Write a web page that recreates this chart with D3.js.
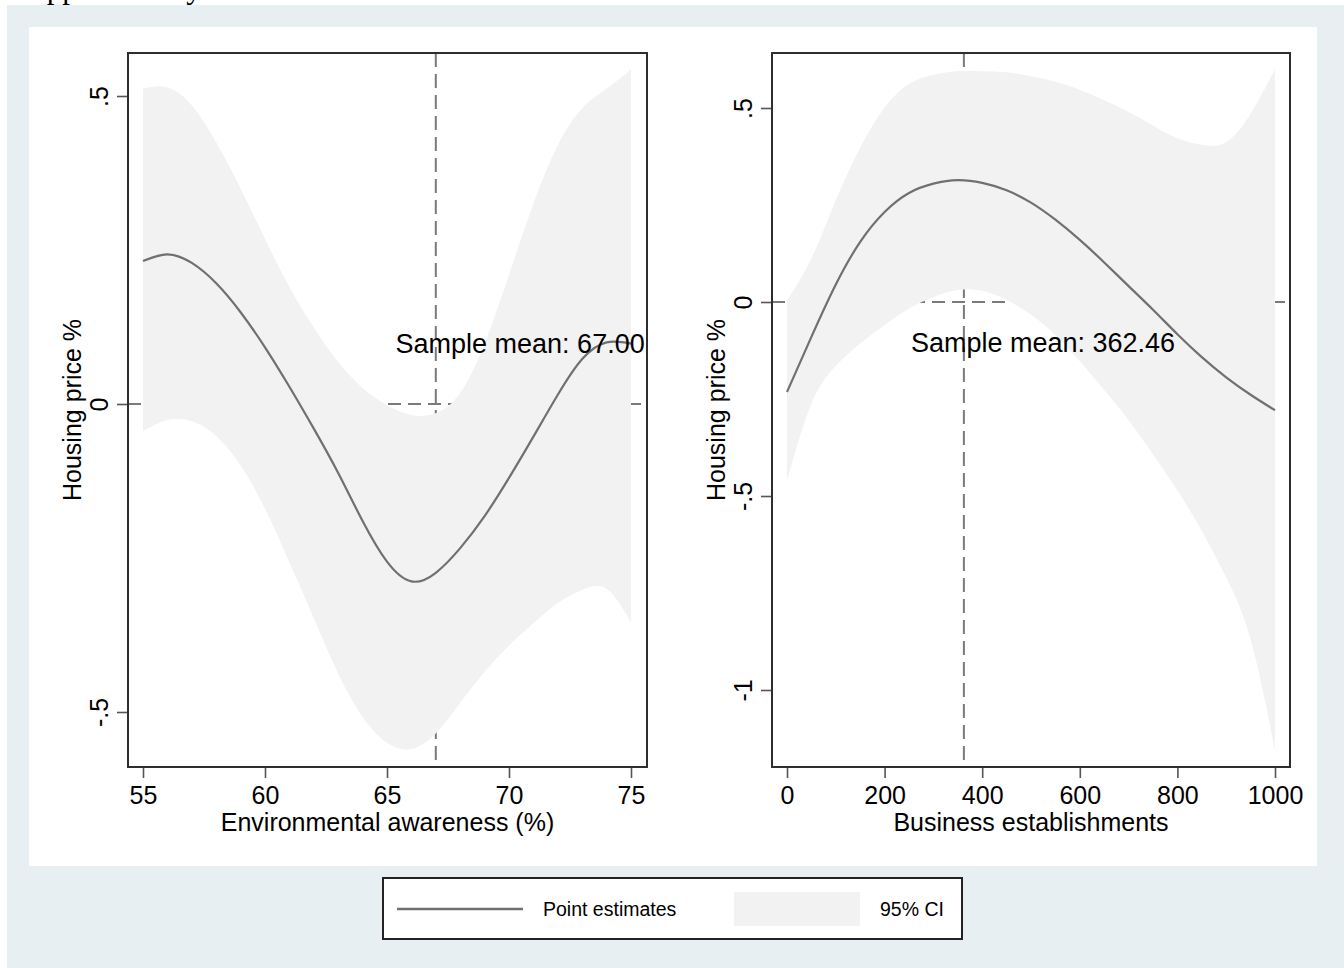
<!DOCTYPE html>
<html>
<head>
<meta charset="utf-8">
<script src="https://cdn.jsdelivr.net/npm/d3@7"></script>
<style>
  body { margin: 0; background: #fff; }
  svg { display: block; font-family: "Liberation Sans", Arial, sans-serif; }
</style>
</head>
<body>
<svg id="chart" width="1344" height="968"></svg>
<script>
// ---- data ----
const envX = [55, 56, 57, 58, 59, 60, 61, 62, 63, 64, 65, 66, 67, 68, 69, 70, 71, 72, 73, 74, 75];
const envEst = [0.232, 0.243, 0.229, 0.196, 0.149, 0.092, 0.028, -0.040, -0.112, -0.190, -0.256, -0.288, -0.274, -0.234, -0.182, -0.120, -0.053, 0.015, 0.073, 0.100, 0.098];
const envHi = [0.512, 0.514, 0.485, 0.425, 0.350, 0.268, 0.190, 0.124, 0.068, 0.026, -0.002, -0.018, -0.015, 0.018, 0.098, 0.210, 0.325, 0.420, 0.480, 0.512, 0.543];
const envLo = [-0.044, -0.026, -0.028, -0.052, -0.100, -0.170, -0.257, -0.348, -0.438, -0.508, -0.550, -0.560, -0.535, -0.485, -0.435, -0.392, -0.356, -0.323, -0.302, -0.300, -0.355];

const busX = [0, 50, 100, 150, 200, 250, 300, 350, 400, 450, 500, 550, 600, 650, 700, 750, 800, 850, 900, 950, 1000];
const busEst = [-0.232, -0.090, 0.045, 0.155, 0.232, 0.281, 0.305, 0.314, 0.307, 0.288, 0.256, 0.212, 0.160, 0.102, 0.041, -0.020, -0.083, -0.142, -0.194, -0.239, -0.279];
const busHi = [0.004, 0.112, 0.262, 0.398, 0.501, 0.562, 0.586, 0.595, 0.595, 0.592, 0.582, 0.568, 0.547, 0.520, 0.490, 0.455, 0.422, 0.405, 0.412, 0.485, 0.600];
const busLo = [-0.461, -0.262, -0.165, -0.107, -0.060, -0.017, 0.013, 0.031, 0.029, 0.005, -0.033, -0.085, -0.153, -0.227, -0.305, -0.393, -0.486, -0.590, -0.710, -0.870, -1.156];

const envTicksX = [55, 60, 65, 70, 75];
const envTicksY = [-0.5, 0, 0.5];
const busTicksX = [0, 200, 400, 600, 800, 1000];
const busTicksY = [-1, -0.5, 0, 0.5];

const envMean = 67.00;
const busMean = 362.46;

const legendLabels = ["Point estimates", "95% CI"];

// ---- look ----
const ciColor = "#f2f2f2";
const lineColor = "#707070";
const refColor = "#7a7a7a";
const frameColor = "#2e2e2e";

const svg = d3.select("#chart");

// page text cut by the crop, then graph region + plot region
svg.append("text")
    .attr("x", 14).attr("y", -2)
    .attr("font-family", "Liberation Serif, Times New Roman, serif")
    .attr("font-size", 31)
    .attr("fill", "#000")
    .text("Supplementary");
svg.append("rect").attr("x", 7).attr("y", 5).attr("width", 1337).attr("height", 963).attr("fill", "#e8eff2");
svg.append("rect").attr("x", 29).attr("y", 27).attr("width", 1288).attr("height", 839).attr("fill", "#fff");

const yFmt = d => d === 0 ? "0" : (d < 0 ? "-" : "") + String(Math.abs(d)).replace(/^0/, "");

function drawPanel(opt) {
    const g = svg.append("g");
    const x = d3.scaleLinear().domain(opt.xDomain).range(opt.xRange);
    const y = d3.scaleLinear().domain(opt.yDomain).range(opt.yRange);
    const b = opt.box; // plot frame in pixels

    const rows = opt.xs.map((v, i) => ({ x: v, est: opt.est[i], hi: opt.hi[i], lo: opt.lo[i] }));

    // reference lines (under the band)
    g.append("line")
        .attr("x1", b.left).attr("x2", b.right)
        .attr("y1", y(0)).attr("y2", y(0))
        .attr("stroke", refColor).attr("stroke-width", 2).attr("stroke-dasharray", "13,7");
    g.append("line")
        .attr("x1", x(opt.mean)).attr("x2", x(opt.mean))
        .attr("y1", b.top).attr("y2", b.bottom)
        .attr("stroke", refColor).attr("stroke-width", 2).attr("stroke-dasharray", "14,7");

    // confidence band
    const area = d3.area()
        .x(d => x(d.x))
        .y0(d => y(d.lo))
        .y1(d => y(d.hi))
        .curve(d3.curveNatural);
    g.append("path").datum(rows).attr("d", area).attr("fill", ciColor);

    // point estimates
    const line = d3.line()
        .x(d => x(d.x))
        .y(d => y(d.est))
        .curve(d3.curveNatural);
    g.append("path").datum(rows).attr("d", line)
        .attr("fill", "none").attr("stroke", lineColor).attr("stroke-width", 2.2);

    // sample mean label
    g.append("text")
        .attr("x", x(opt.labelAt[0])).attr("y", y(opt.labelAt[1]))
        .attr("font-size", 27).attr("fill", "#000")
        .text("Sample mean: " + opt.meanText);

    // axes
    const xAxis = g.append("g")
        .attr("transform", `translate(0,${b.bottom})`)
        .call(d3.axisBottom(x).tickValues(opt.xTicks).tickSize(11).tickPadding(6).tickFormat(d3.format("d")));
    xAxis.select(".domain").remove();
    xAxis.selectAll(".tick line").attr("stroke", "#555").attr("stroke-width", 1.6);
    xAxis.selectAll(".tick text").attr("font-size", 25).attr("fill", "#000").attr("dy", "0.78em");

    const yAxis = g.append("g")
        .attr("transform", `translate(${b.left},0)`)
        .call(d3.axisLeft(y).tickValues(opt.yTicks).tickSize(11).tickFormat(yFmt));
    yAxis.select(".domain").remove();
    yAxis.selectAll(".tick line").attr("stroke", "#555").attr("stroke-width", 1.6);
    yAxis.selectAll(".tick text")
        .attr("font-size", 25).attr("fill", "#000")
        .attr("x", 0).attr("dy", 0)
        .attr("text-anchor", "middle")
        .attr("transform", "translate(-20,0) rotate(-90)");

    // frame
    g.append("rect")
        .attr("x", b.left).attr("y", b.top)
        .attr("width", b.right - b.left).attr("height", b.bottom - b.top)
        .attr("fill", "none").attr("stroke", frameColor).attr("stroke-width", 2);

    // titles
    g.append("text")
        .attr("x", (b.left + b.right) / 2).attr("y", b.bottom + 64)
        .attr("text-anchor", "middle").attr("font-size", 25).attr("fill", "#000")
        .text(opt.xTitle);
    g.append("text")
        .attr("transform", `translate(${b.left - 47},${(b.top + b.bottom) / 2}) rotate(-90)`)
        .attr("text-anchor", "middle").attr("font-size", 25).attr("fill", "#000")
        .text("Housing price %");
}

drawPanel({
    xs: envX, est: envEst, hi: envHi, lo: envLo,
    xDomain: [55, 75], xRange: [143, 631],
    yDomain: [-0.5, 0.5], yRange: [712, 96],
    box: { left: 128, right: 647, top: 53, bottom: 767 },
    xTicks: envTicksX, yTicks: envTicksY,
    mean: envMean, meanText: envMean.toFixed(2), labelAt: [65.35, 0.082],
    xTitle: "Environmental awareness (%)"
});

drawPanel({
    xs: busX, est: busEst, hi: busHi, lo: busLo,
    xDomain: [0, 1000], xRange: [787, 1275],
    yDomain: [-1, 0.5], yRange: [690, 108],
    box: { left: 772, right: 1290, top: 53, bottom: 767 },
    xTicks: busTicksX, yTicks: busTicksY,
    mean: busMean, meanText: busMean.toFixed(2), labelAt: [254, -0.128],
    xTitle: "Business establishments"
});

// legend
const leg = svg.append("g").attr("transform", "translate(383,878)");
leg.append("rect").attr("width", 579).attr("height", 61)
    .attr("fill", "#fff").attr("stroke", "#222").attr("stroke-width", 2);
leg.append("line").attr("x1", 14).attr("x2", 140).attr("y1", 31).attr("y2", 31)
    .attr("stroke", lineColor).attr("stroke-width", 2.5);
leg.append("text").attr("x", 160).attr("y", 38).attr("font-size", 19.5).attr("fill", "#000").text(legendLabels[0]);
leg.append("rect").attr("x", 351).attr("y", 14).attr("width", 126).attr("height", 34).attr("fill", ciColor);
leg.append("text").attr("x", 497).attr("y", 38).attr("font-size", 19.5).attr("fill", "#000").text(legendLabels[1]);
</script>
</body>
</html>
